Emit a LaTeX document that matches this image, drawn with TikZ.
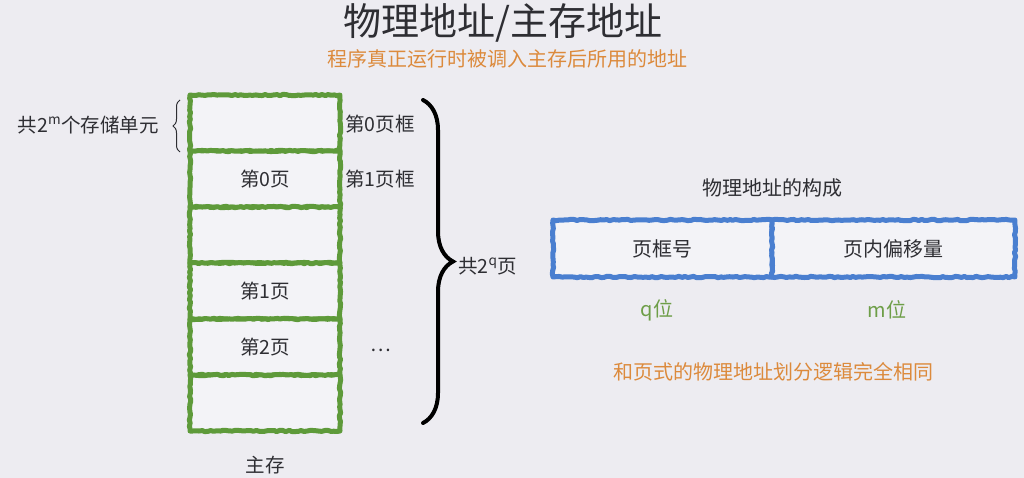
\documentclass[tikz,border=0pt]{standalone}
\usepackage{fontspec}
\setmainfont{Noto Sans CJK SC}
\usetikzlibrary{decorations.pathreplacing,decorations.pathmorphing}
\definecolor{bg}{HTML}{EDECF1}
\definecolor{cellfill}{HTML}{F3F3F7}
\definecolor{mgreen}{HTML}{5E9A3A}
\definecolor{mblue}{HTML}{4A7FD0}
\definecolor{txt}{HTML}{2E2E33}
\definecolor{orng}{HTML}{DC8A3C}
\definecolor{qgreen}{HTML}{6E9E48}
\begin{document}
\begin{tikzpicture}[x=1pt,y=-1pt,
  every node/.style={text=txt, inner sep=1pt},
  lbl/.style={font=\fontsize{19.5}{21}\selectfont},
  cell/.style={draw=mgreen, fill=cellfill, line width=5pt, line join=round,
    minimum width=150pt, minimum height=56pt, inner sep=0pt,
    font=\fontsize{19.5}{21}\selectfont,
    decorate, decoration={random steps, segment length=3pt, amplitude=0.7pt}},
  addr/.style={draw=mblue, fill=cellfill, line width=5pt, line join=round,
    minimum height=57pt, inner sep=0pt,
    font=\fontsize{20}{22}\selectfont,
    decorate, decoration={random steps, segment length=3pt, amplitude=0.7pt}},
  bigbrace/.style={draw=black, line width=4pt, line cap=round,
    decorate, decoration={brace, amplitude=30pt}},
  smallbrace/.style={draw=txt, line width=1pt,
    decorate, decoration={brace, amplitude=7pt}}
]
\fill[bg] (0,0) rectangle (1024,478);
\useasboundingbox (0,0) rectangle (1024,478);

% titles
\node (title) at (503,23) {\fontsize{38}{42}\selectfont 物理地址/主存地址};
\node[text=orng] (sub) at (507,59) {\fontsize{20}{22}\selectfont 程序真正运行时被调入主存后所用的地址};

% memory column
\node[cell] (r1) at (265,123) {};
\node[cell] (r2) at (265,179) {第0页};
\node[cell] (r3) at (265,235) {};
\node[cell] (r4) at (265,291) {第1页};
\node[cell] (r5) at (265,347) {第2页};
\node[cell] (r6) at (265,403) {};
\node[lbl] (mem) at (265,465) {主存};

% frame labels
\node[lbl, anchor=west] (f0) at (344,124) {第0页框};
\node[lbl, anchor=west] (f1) at (344,179) {第1页框};
\node[lbl] (dots) at (381,350) {…};

% braces
\coordinate (bt) at (423,100);
\coordinate (bb) at (423,423);
\draw[bigbrace] (bt) -- (bb);
\node[lbl, anchor=west] (tot) at (457,266) {共2\textsuperscript{q}页};

\coordinate (st) at (180,100);
\coordinate (sb) at (180,152);
\draw[smallbrace] (sb) -- (st);
\node[lbl, anchor=east] (cnt) at (160,125) {共2\textsuperscript{m}个存储单元};

% physical address composition
\node[font=\fontsize{20}{22}\selectfont] (ct) at (772,188) {物理地址的构成};
\node[addr, minimum width=219pt] (pf) at (662.5,248.5) {页框号};
\node[addr, minimum width=243pt] (po) at (893.5,248.5) {页内偏移量};
\node[text=qgreen, font=\fontsize{20}{22}\selectfont] (qb) at (657,310) {q位};
\node[text=qgreen, font=\fontsize{20}{22}\selectfont] (mb) at (887,310) {m位};
\node[text=orng, font=\fontsize{20}{22}\selectfont] (note) at (773,372) {和页式的物理地址划分逻辑完全相同};
\end{tikzpicture}
\end{document}
